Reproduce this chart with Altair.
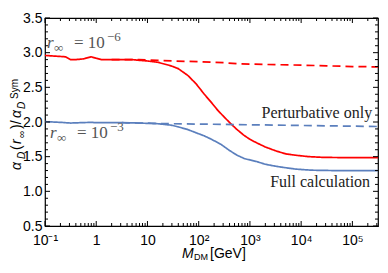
import altair as alt
import pandas as pd
import json

# ---------------- data ----------------
red_full_logM = [-1.0, -0.8, -0.6, -0.5, -0.4, -0.25, -0.1, 0.0, 0.1, 0.3, 0.5, 0.7, 0.83, 1.0, 1.21,
                 1.46, 1.6, 1.79, 1.95, 2.11, 2.25, 2.37, 2.5, 2.62, 2.75, 2.88, 3.0, 3.13, 3.3, 3.52,
                 3.7, 3.9, 4.15, 4.42, 5.0, 5.5]
red_full_val = [2.96, 2.95, 2.94, 2.90, 2.90, 2.91, 2.94, 2.92, 2.90, 2.90, 2.90, 2.90, 2.89, 2.88, 2.86,
                2.81, 2.77, 2.67, 2.55, 2.40, 2.28, 2.17, 2.07, 1.98, 1.89, 1.81, 1.75, 1.70, 1.64, 1.58,
                1.54, 1.52, 1.50, 1.49, 1.485, 1.485]

red_pert_logM = [0.3, 0.83, 1.2, 1.5, 2.0, 2.5, 2.75, 3.3, 4.0, 4.5, 5.0, 5.5]
red_pert_val = [2.90, 2.90, 2.89, 2.88, 2.87, 2.855, 2.84, 2.83, 2.82, 2.81, 2.80, 2.795]

blue_full_logM = [-1.0, -0.7, -0.5, -0.3, -0.1, 0.0, 0.3, 0.5, 0.83, 1.2, 1.46, 1.6, 1.79, 2.0, 2.11,
                  2.25, 2.43, 2.6, 2.75, 2.9, 3.13, 3.3, 3.52, 3.7, 3.9, 4.2, 4.6, 5.5]
blue_full_val = [2.005, 1.995, 1.985, 1.99, 1.995, 1.99, 1.99, 1.99, 1.985, 1.975, 1.955, 1.93, 1.89, 1.83,
                 1.80, 1.75, 1.68, 1.59, 1.52, 1.47, 1.43, 1.39, 1.36, 1.34, 1.32, 1.305, 1.30, 1.298]

blue_pert_logM = [0.5, 0.83, 1.5, 2.0, 2.5, 3.0, 3.5, 4.0, 4.5, 5.0, 5.5]
blue_pert_val = [1.99, 1.985, 1.975, 1.97, 1.965, 1.96, 1.955, 1.95, 1.945, 1.94, 1.935]

series_names = ["full_6", "pert_6", "full_3", "pert_3"]
series_colors = ["#ff0000", "#ff0000", "#5b7fbd", "#5b7fbd"]
series_dash = [[1, 0], [8, 5], [1, 0], [8, 5]]

x_major = [0.1, 1, 10, 100, 1e3, 1e4, 1e5]
x_labels = ["10\u207b\u00b9", "1", "10", "10\u00b2", "10\u00b3", "10\u2074", "10\u2075"]
y_major = [0.5, 1.0, 1.5, 2.0, 2.5, 3.0, 3.5]
x_max = 10 ** 5.5

# annotation anchors (data coordinates)
ann_M = [0.109, 0.125]
ann_val = [3.071, 1.771]
ann_exp = ["\u22126", "\u22123"]
label_M = [2.43e5, 2.22e5]
label_val = [2.057, 1.057]
label_text = ["Perturbative only", "Full calculation"]

# ---------------- build ----------------
W, H = 333, 208

frames = []
for name, lm, v in [("full_6", red_full_logM, red_full_val), ("pert_6", red_pert_logM, red_pert_val),
                    ("full_3", blue_full_logM, blue_full_val), ("pert_3", blue_pert_logM, blue_pert_val)]:
    frames.append(pd.DataFrame({"M": [10 ** x for x in lm], "v": v, "series": name}))
df = pd.concat(frames, ignore_index=True)

x_minor = [k * 10 ** e for e in range(-1, 6) for k in range(2, 10) if k * 10 ** e <= x_max]
y_minor = [round(0.5 + 0.1 * i, 1) for i in range(31) if i % 5]

xscale = alt.Scale(type="log", domain=[0.1, x_max], nice=False)
yscale = alt.Scale(domain=[0.5, 3.5], nice=False, zero=False)

label_expr = json.dumps(x_labels) + "[round(log(datum.value)/LN10)+1]"
xaxis = alt.Axis(values=x_major, labelExpr=label_expr, ticks=False, domain=False, grid=False,
                 title=None, labelFont="Liberation Sans", labelFontSize=14, labelColor="black",
                 labelPadding=7, labelFlush=False)
yaxis = alt.Axis(values=y_major, format=".1f", ticks=False, domain=False, grid=False, title=None,
                 labelFont="Liberation Sans", labelFontSize=14, labelColor="black", labelPadding=3)

X = alt.X("M:Q", scale=xscale, axis=xaxis)
Y = alt.Y("v:Q", scale=yscale, axis=yaxis)

lines = alt.Chart(df).mark_line(strokeWidth=1.7).encode(
    x=X, y=Y,
    color=alt.Color("series:N", scale=alt.Scale(domain=series_names, range=series_colors), legend=None),
    strokeDash=alt.StrokeDash("series:N", scale=alt.Scale(domain=series_names, range=series_dash), legend=None),
    detail="series:N",
)

dxmaj = pd.DataFrame({"M": x_major})
dxmin = pd.DataFrame({"M": x_minor})
dymaj = pd.DataFrame({"v": y_major})
dymin = pd.DataFrame({"v": y_minor})

def xt(d, y0, y1):
    return alt.Chart(d).mark_rule(color="black", strokeWidth=1).encode(x=X, y=alt.value(y0), y2=alt.value(y1))

def yt(d, x0, x1):
    return alt.Chart(d).mark_rule(color="black", strokeWidth=1).encode(y=Y, x=alt.value(x0), x2=alt.value(x1))

ticks = [
    xt(dxmaj, H, H - 5), xt(dxmin, H, H - 3), xt(dxmaj, 0, 5), xt(dxmin, 0, 3),
    yt(dymaj, 0, 5), yt(dymin, 0, 3), yt(dymaj, W, W - 5), yt(dymin, W, W - 3),
]

# r_inf annotations
dann = pd.DataFrame({"M": ann_M, "v": ann_val, "e": ann_exp})
serif = "Liberation Serif"
acol = "#555555"
ann = [
    alt.Chart(dann).mark_text(text="r", font=serif, fontStyle="italic", fontSize=17, align="left",
                              baseline="alphabetic", color=acol).encode(x=X, y=Y),
    alt.Chart(dann).mark_text(text="\u221e", font=serif, fontSize=13, align="left", baseline="alphabetic",
                              dx=7, dy=4, color=acol).encode(x=X, y=Y),
    alt.Chart(dann).mark_text(text="= 10", font=serif, fontSize=17, align="left", baseline="alphabetic",
                              dx=27, color=acol).encode(x=X, y=Y),
    alt.Chart(dann).mark_text(font=serif, fontSize=13, align="left", baseline="alphabetic",
                              dx=60, dy=-7, color=acol).encode(x=X, y=Y, text="e:N"),
]

dlab = pd.DataFrame({"M": label_M, "v": label_val, "t": label_text})
labs = alt.Chart(dlab).mark_text(font=serif, fontSize=16, align="right", baseline="alphabetic",
                                 color="#222222").encode(x=X, y=Y, text="t:N")

# axis titles built from pieces
one = pd.DataFrame({"a": [0]})
sans = "Liberation Sans"

def piece(txt, x, y, size, italic=False, angle=0):
    kw = dict(text=txt, font=sans, fontSize=size, align="left", baseline="alphabetic", color="black")
    if italic:
        kw["fontStyle"] = "italic"
    if angle:
        kw["angle"] = angle
    return alt.Chart(one).mark_text(**kw).encode(x=alt.value(x), y=alt.value(y))

xtitle = [
    piece("M", 137, 240, 14, italic=True),
    piece("DM", 149, 242, 9),
    piece("[GeV]", 165, 240, 14),
]
ytitle = [
    piece("\u03b1", -24, 152, 14, italic=True, angle=270),
    piece("D", -20, 141, 10, italic=True, angle=270),
    piece("(", -24, 132, 14, angle=270),
    piece("r", -24, 126, 14, italic=True, angle=270),
    piece("\u221e", -20, 120, 10, angle=270),
    piece(")/", -24, 111, 14, angle=270),
    piece("\u03b1", -24, 100, 14, italic=True, angle=270),
    piece("D", -20, 91, 10, italic=True, angle=270),
    piece("Sym", -27.5, 81, 10, angle=270),
]

chart = alt.layer(lines, *ticks, *ann, labs, *xtitle, *ytitle).properties(
    width=W, height=H,
    autosize=alt.AutoSizeParams(type="none"),
    padding={"left": 37, "top": 10, "right": 2, "bottom": 35},
).configure_view(stroke="black", strokeWidth=1.2)

chart.save("out.html", embed_options={"renderer": "svg", "actions": False})
